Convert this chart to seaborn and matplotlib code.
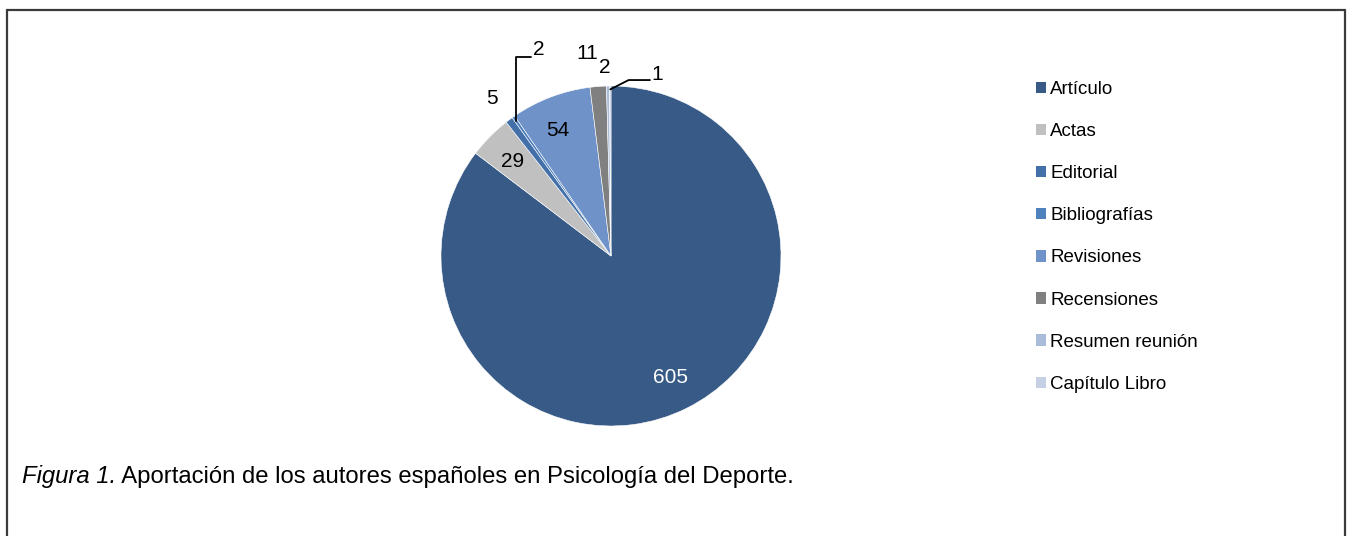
import numpy as np
import matplotlib
matplotlib.use("Agg")
import matplotlib.pyplot as plt
from matplotlib.patches import Patch
from matplotlib.lines import Line2D
import seaborn as sns

# datos de la figura
categorias = ["Artículo", "Actas", "Editorial", "Bibliografías", "Revisiones",
              "Recensiones", "Resumen reunión", "Capítulo Libro"]
cantidades = [605, 29, 5, 2, 54, 11, 2, 1]
colores = ["#375A87", "#C0C0C0", "#4370A9", "#4F81BD", "#6F93C8",
           "#808080", "#A9BCDA", "#C6D0E5"]
titulo_fig = "Figura 1."
titulo_txt = " Aportación de los autores españoles en Psicología del Deporte."

# colocación de etiquetas: (radio, ajuste de ángulo) o None si lleva línea guía
pos_etiquetas = [(0.79, 0), (0.81, 0), (1.17, 0), None, (0.81, 2),
                 (1.21, 2.4), (1.12, 0.8), None]

sns.set_theme(style="white")
plt.rcParams["font.family"] = ["Liberation Sans", "DejaVu Sans"]
plt.rcParams["text.color"] = "black"

W, H = 1348, 536
fig = plt.figure(figsize=(W / 100, H / 100), dpi=100)
fig.patch.set_facecolor("white")

# pie axes: centro (611, 256) px, radio 170 px
ax = fig.add_axes([441 / W, (H - 426) / H, 340 / W, 340 / H])
pal = sns.color_palette(colores)
wedges, _ = ax.pie(cantidades, colors=pal, startangle=90, counterclock=False,
                   radius=1, wedgeprops=dict(edgecolor="white", linewidth=0.4))
ax.set_xlim(-1, 1)
ax.set_ylim(-1, 1)
ax.axis("off")

for i, (w, n) in enumerate(zip(wedges, cantidades)):
    p = pos_etiquetas[i]
    if p is None:
        continue
    r, d = p
    a = np.deg2rad((w.theta1 + w.theta2) / 2 + d)
    col = "white" if i == 0 else "black"
    ax.text(r * np.cos(a), r * np.sin(a) - 0.01, str(n), ha="center", va="center",
            fontsize=15, color=col)

# etiquetas con línea guía
mid_b = np.deg2rad((wedges[3].theta1 + wedges[3].theta2) / 2)
ax.annotate("", xy=(0.97 * np.cos(mid_b), 0.97 * np.sin(mid_b)), xytext=(-0.47, 1.17),
            arrowprops=dict(arrowstyle="-", color="black", lw=1.3,
                            connectionstyle="angle,angleA=0,angleB=90,rad=0",
                            shrinkA=0, shrinkB=0), annotation_clip=False)
ax.text(-0.458, 1.215, str(cantidades[3]), ha="left", va="center", fontsize=15)

mid_c = np.deg2rad((wedges[7].theta1 + wedges[7].theta2) / 2)
ax.annotate("", xy=(0.98 * np.cos(mid_c), 0.98 * np.sin(mid_c)), xytext=(0.229, 1.035),
            arrowprops=dict(arrowstyle="-", color="black", lw=1.3,
                            connectionstyle="angle,angleA=0,angleB=27,rad=0",
                            shrinkA=0, shrinkB=0), annotation_clip=False)
ax.text(0.24, 1.068, str(cantidades[7]), ha="left", va="center", fontsize=15)

# leyenda
handles = [Patch(facecolor=c, edgecolor="none") for c in pal]
fig.legend(handles, categorias, loc="upper left",
           bbox_to_anchor=(1036 / W, 1 - 81 / H), frameon=False,
           fontsize=13.5, handlelength=0.55, handleheight=0.55,
           handletextpad=0.2, labelspacing=1.34, borderpad=0, borderaxespad=0)

# pie de figura
t1 = fig.text(22 / W, 1 - 477 / H, titulo_fig, fontsize=17.2, style="italic",
              ha="left", va="center")
ax.annotate(titulo_txt, xy=(1, 0), xycoords=t1, ha="left", va="bottom",
            fontsize=17.2, annotation_clip=False)

# marco (abierto por abajo)
lc = "#3a3a3a"
fig.add_artist(Line2D([7 / W, 7 / W], [0, 1 - 10 / H], color=lc, lw=1.6))
fig.add_artist(Line2D([7 / W, 1345 / W], [1 - 10 / H, 1 - 10 / H], color=lc, lw=1.6))
fig.add_artist(Line2D([1345 / W, 1345 / W], [0, 1 - 10 / H], color=lc, lw=1.6))

fig.savefig("out.png", dpi=100, facecolor="white")
